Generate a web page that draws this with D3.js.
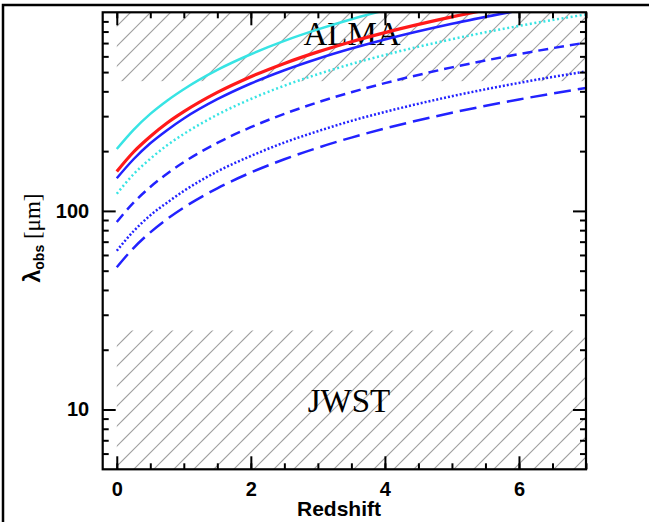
<!DOCTYPE html>
<html><head><meta charset="utf-8">
<script src="https://cdn.jsdelivr.net/npm/d3@7"></script>
<style>body{margin:0;background:#fff}</style></head>
<body><svg id="c" width="649" height="522"></svg>
<script>
// ---- data ----
const redshifts = [0, 0.25, 0.5, 0.75, 1, 1.5, 2, 2.5, 3, 3.5, 4, 5, 6, 7];
const nii205 = [205, 256, 308, 359, 410, 513, 615, 718, 820, 923, 1025];
const cii158 = [158, 198, 237, 277, 316, 395, 474, 553, 632, 711, 790, 948, 1106];
const oi145  = [146, 182, 219, 255, 292, 365, 438, 511, 584, 657, 730, 876, 1022];
const nii122 = [122, 153, 183, 214, 244, 305, 366, 427, 488, 549, 610, 732, 854, 976];
const oiii88 = [88, 110, 132, 154, 176, 220, 264, 308, 352, 396, 440, 528, 616, 704];
const oi63   = [63, 79, 95, 110, 126, 158, 189, 221, 252, 284, 315, 378, 441, 504];
const oiii52 = [52, 65, 78, 91, 104, 130, 156, 182, 208, 234, 260, 312, 364, 416];
const seriesNames = ["nii205","cii158","oi145","nii122","oiii88","oi63","oiii52"];
const seriesValues = [nii205, cii158, oi145, nii122, oiii88, oi63, oiii52];
const seriesColors = ["#38e4e4","#ff1a1a","#2222ff","#38e4e4","#2222ff","#2222ff","#2222ff"];
const seriesDash = [null, null, null, "2,2.6", "10,6", "2,2", "17,7"];
const seriesWidth = [2.5, 3.2, 2.5, 2.5, 2.5, 2.5, 2.5];
const almaRange = [450, 1000];
const jwstRange = [5, 25];
const hatchZStart = 0;
const xMajor = [0, 2, 4, 6];
const xMinor = d3.range(0, 7.01, 0.5);
const yMajor = [10, 100];
const yMinor = [6,7,8,9,20,30,40,50,60,70,80,90,200,300,400,500,600,700,800,900];

const svg = d3.select("#c");
const L = 102.7, R = 586, T = 12.3, B = 469.3;
const x = d3.scaleLinear().domain([-0.21, 7.0]).range([L, R]);
const y = d3.scaleLog().domain([5, 1000]).range([B, T]);

// outer frame
svg.append("path").attr("d", "M3,522 L3,5 L649,5").attr("fill","none").attr("stroke","#000").attr("stroke-width",2.5);

const defs = svg.append("defs");
const pat = defs.append("pattern").attr("id","hatch").attr("patternUnits","userSpaceOnUse")
  .attr("width",20).attr("height",20);
pat.append("path").attr("d","M-2,5 L5,-2 M-2,25 L25,-2 M18,25 L25,18")
  .attr("stroke","#a0a0a0").attr("stroke-width",1.2).attr("fill","none");
defs.append("clipPath").attr("id","plotclip").append("rect")
  .attr("x",L).attr("y",T).attr("width",R-L).attr("height",B-T);

// hatched regions
[almaRange, jwstRange].forEach(r => {
  svg.append("rect").attr("x", x(hatchZStart)).attr("y", y(r[1]))
    .attr("width", x(7) - x(hatchZStart)).attr("height", y(r[0]) - y(r[1]))
    .attr("fill","url(#hatch)");
});

svg.append("text").attr("x",352).attr("y",45).attr("text-anchor","middle")
  .attr("font-family","Liberation Serif").attr("font-size",33).text("ALMA");
svg.append("text").attr("x",349).attr("y",412).attr("text-anchor","middle")
  .attr("font-family","Liberation Serif").attr("font-size",33).text("JWST");

// curves
const line = d3.line().x(d => x(d[0])).y(d => y(d[1])).curve(d3.curveMonotoneX);
const g = svg.append("g").attr("clip-path","url(#plotclip)");
seriesValues.forEach((vals, i) => {
  const pts = vals.map((v, j) => [redshifts[j], v]);
  g.append("path").attr("d", line(pts)).attr("fill","none")
    .attr("stroke", seriesColors[i]).attr("stroke-width", seriesWidth[i])
    .attr("stroke-dasharray", seriesDash[i]);
});

// axes
function styleAxis(sel) {
  sel.select(".domain").remove();
  sel.selectAll(".tick line").attr("stroke","#000").attr("stroke-width",2);
  sel.selectAll("text").attr("font-family","Liberation Sans").attr("font-weight","bold")
    .attr("font-size",20).attr("fill","#000");
}
svg.append("g").attr("transform",`translate(0,${B})`)
  .call(d3.axisBottom(x).tickValues(xMajor).tickFormat(d3.format("d")).tickSize(-13).tickPadding(12.5)).call(styleAxis);
svg.append("g").attr("transform",`translate(0,${B})`)
  .call(d3.axisBottom(x).tickValues(xMinor).tickFormat("").tickSize(-6)).call(styleAxis);
svg.append("g").attr("transform",`translate(0,${T})`)
  .call(d3.axisTop(x).tickValues(xMajor).tickFormat("").tickSize(-13)).call(styleAxis);
svg.append("g").attr("transform",`translate(0,${T})`)
  .call(d3.axisTop(x).tickValues(xMinor).tickFormat("").tickSize(-6)).call(styleAxis);
svg.append("g").attr("transform",`translate(${L},0)`)
  .call(d3.axisLeft(y).tickValues(yMajor).tickFormat(d3.format("d")).tickSize(-13).tickPadding(13.5)).call(styleAxis);
svg.append("g").attr("transform",`translate(${L},0)`)
  .call(d3.axisLeft(y).tickValues(yMinor).tickFormat("").tickSize(-6)).call(styleAxis);
svg.append("g").attr("transform",`translate(${R},0)`)
  .call(d3.axisRight(y).tickValues(yMajor).tickFormat("").tickSize(-13)).call(styleAxis);
svg.append("g").attr("transform",`translate(${R},0)`)
  .call(d3.axisRight(y).tickValues(yMinor).tickFormat("").tickSize(-6)).call(styleAxis);

// plot box
svg.append("rect").attr("x",L).attr("y",T).attr("width",R-L).attr("height",B-T)
  .attr("fill","none").attr("stroke","#000").attr("stroke-width",2.2);

// axis titles
svg.append("text").attr("x",339).attr("y",516).attr("text-anchor","middle")
  .attr("font-family","Liberation Sans").attr("font-weight","bold").attr("font-size",21).text("Redshift");
const yl = svg.append("text").attr("transform","translate(40,238) rotate(-90)").attr("text-anchor","middle")
  .attr("font-size",23);
yl.append("tspan").attr("font-family","Liberation Sans").attr("font-weight","bold").text("λ");
yl.append("tspan").attr("font-family","Liberation Sans").attr("font-weight","bold").attr("font-size",14).attr("dy",4).text("obs");
yl.append("tspan").attr("font-family","Liberation Serif").attr("dy",-4).text(" [μm]");
</script></body></html>
